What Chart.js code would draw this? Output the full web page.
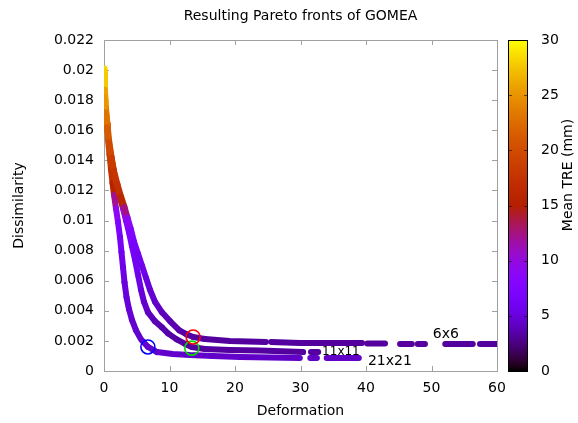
<!DOCTYPE html>
<html>
<head>
<meta charset="utf-8">
<title>Resulting Pareto fronts of GOMEA</title>
<script src="https://cdn.jsdelivr.net/npm/chart.js@4.4.1/dist/chart.umd.min.js"></script>
<style>
  html, body { margin: 0; padding: 0; background: #fff; }
</style>
</head>
<body>
<canvas id="pareto" width="578" height="423"></canvas>
<script>
// Pareto fronts per grid size: deformation, dissimilarity, mean TRE (mm).
// null entries mark gaps between runs of solutions.
const def6 = [0, 0.23, 0.46, 0.76, 1.15, 1.53, 2.06, 2.60, 3.13, 3.59, 4.12, 4.58, 5.19, 5.80, 6.41, 7.02, 7.79, 8.85, 10.1, 11.5, 12.5, 13.6, 15.4, 19.2, 24.7, null, 25.5, 29.9, 39.4, null, 40.2, 42.9, null, 45.2, 47.0, null, 47.9, 49.0, null, 52.1, 56.3, null, 57.4, 60.0];
const dis6 = [0.0182, 0.0172, 0.0162, 0.0152, 0.0142, 0.0133, 0.0124, 0.0116, 0.0109, 0.0102, 0.0094, 0.0086, 0.0078, 0.0070, 0.0062, 0.0054, 0.0046, 0.0039, 0.0033, 0.0027, 0.00246, 0.00226, 0.00213, 0.0020, 0.00193, null, 0.00193, 0.00186, 0.00186, null, 0.00183, 0.00183, null, 0.00179, 0.00179, null, 0.00179, 0.00179, null, 0.00179, 0.00179, null, 0.00179, 0.00179];
const tre6 = [26, 24, 22, 20.5, 19, 18, 17.5, 17, 15, 10, 8, 7, 6.3, 5.8, 5.3, 4.9, 4.5, 4.1, 3.8, 3.6, 3.4, 3.3, 3.2, 3.2, 3.2, null, 3.2, 3.2, 3.2, null, 3.2, 3.2, null, 3.2, 3.2, null, 3.2, 3.2, null, 3.2, 3.2, null, 3.2, 3.2];

const def11 = [0, 0.15, 0.30, 0.53, 0.76, 1.07, 1.45, 1.91, 2.44, 2.90, 3.36, 3.82, 4.27, 4.73, 5.19, 5.65, 6.10, 6.72, 7.79, 8.85, 9.77, 11.1, 12.4, 13.4, 15.4, 19.2, 23.8, 30.4, null, 31.6, 32.7];
const dis11 = [0.0199, 0.0187, 0.0175, 0.0164, 0.0154, 0.0144, 0.0134, 0.0124, 0.0115, 0.0108, 0.0100, 0.0092, 0.0083, 0.0074, 0.0064, 0.0054, 0.0046, 0.0039, 0.0033, 0.0029, 0.0025, 0.0021, 0.0018, 0.0016, 0.00146, 0.0014, 0.00136, 0.00126, null, 0.00126, 0.00126];
const tre11 = [28.5, 27, 24.5, 22, 20.5, 19.5, 18.5, 17.5, 16.5, 11.5, 9, 7.8, 6.8, 6.2, 5.7, 5.2, 4.6, 4.2, 3.9, 3.7, 3.5, 3.4, 3.3, 3.3, 3.2, 3.2, 3.2, 3.2, null, 3.2, 3.2];

const def21 = [0, 0.08, 0.15, 0.30, 0.46, 0.60, 0.84, 1.07, 1.30, 1.53, 1.83, 2.14, 2.44, 2.67, 2.90, 3.13, 3.44, 3.82, 4.27, 4.89, 5.65, 6.72, 8.1, 10.5, 13.1, 16.6, 20.8, 25.3, 29.9, null, 31.5, 32.5, null, 34.0, 38.9];
const dis21 = [0.0201, 0.0193, 0.0183, 0.0173, 0.0164, 0.0154, 0.0144, 0.0134, 0.0125, 0.0117, 0.0108, 0.0099, 0.0089, 0.0079, 0.0069, 0.0059, 0.0049, 0.0041, 0.0034, 0.0027, 0.0021, 0.0016, 0.00126, 0.00113, 0.00106, 0.00100, 0.00093, 0.0009, 0.00086, null, 0.00086, 0.00086, null, 0.00086, 0.00086];
const tre21 = [29, 27.5, 25.5, 23.5, 21.5, 20, 19, 18, 16.5, 14, 10, 8, 6.8, 6, 5.5, 5.2, 5, 4.8, 4.7, 4.5, 4.5, 4.5, 4.4, 4.4, 4.4, 4.4, 4.3, 4.3, 4.3, null, 4.3, 4.3, null, 4.3, 4.3];

// highlighted solutions
const pickDef = [13.6, 13.4, 6.7];
const pickDis = [0.00226, 0.00152, 0.0016];
const pickColors = ['#ff0000', '#00dd00', '#0000ff'];

// front labels
const labelText = ['6x6', '11x11', '21x21'];
const labelDef = [50.2, 33.3, 40.3];
const labelDis = [0.00246, 0.00126, 0.00066];
const labelSize = [14, 12, 14];

const FONT = '"DejaVu Sans", sans-serif';

// gnuplot default palette (rgbformulae 7,5,15) over 0..30 mm
function palette(v) {
    const t = Math.min(Math.max(v / 30, 0), 1);
    const r = Math.sqrt(t);
    const g = t * t * t;
    const b = Math.max(0, Math.sin(2 * Math.PI * t));
    return 'rgb(' + Math.round(r * 255) + ',' + Math.round(g * 255) + ',' + Math.round(b * 255) + ')';
}

function frontDataset(def, dis, tre) {
    return {
        data: def.map((x, i) => ({ x: x, y: dis[i] })),
        showLine: true,
        spanGaps: false,
        borderWidth: 6,
        borderCapStyle: 'round',
        borderJoinStyle: 'round',
        pointRadius: 0,
        tension: 0,
        fill: false,
        order: 1,
        segment: {
            borderColor: c => palette((tre[c.p0DataIndex] + tre[c.p1DataIndex]) / 2)
        }
    };
}

const pickDatasets = pickDef.map((x, i) => ({
    data: [{ x: x, y: pickDis[i] }],
    showLine: false,
    pointRadius: 7,
    pointBorderWidth: 1.6,
    pointBorderColor: pickColors[i],
    pointBackgroundColor: 'rgba(0,0,0,0)',
    order: 0
}));

// frame, ticks, colorbar and texts
const decorations = {
    id: 'decorations',
    beforeDatasetsDraw(chart) {
        const { ctx, chartArea: a, scales } = chart;
        ctx.save();
        ctx.strokeStyle = '#a0a0a0';
        ctx.lineWidth = 1;
        ctx.strokeRect(a.left + 0.5, a.top + 0.5, a.right - a.left, a.bottom - a.top);
        ctx.beginPath();
        for (let v = 10; v < 60; v += 10) {
            const px = Math.round(scales.x.getPixelForValue(v)) + 0.5;
            ctx.moveTo(px, a.bottom); ctx.lineTo(px, a.bottom - 5);
            ctx.moveTo(px, a.top); ctx.lineTo(px, a.top + 5);
        }
        for (let k = 1; k < 11; k++) {
            const py = Math.round(scales.y.getPixelForValue(k * 0.002)) + 0.5;
            ctx.moveTo(a.left, py); ctx.lineTo(a.left + 5, py);
            ctx.moveTo(a.right, py); ctx.lineTo(a.right - 5, py);
        }
        ctx.stroke();
        ctx.restore();
    },
    afterDraw(chart) {
        const { ctx, chartArea: a, scales } = chart;
        const cb = scales.cb;
        ctx.save();

        // colorbar
        const x0 = a.right + 11, w = 20;
        const top = cb.getPixelForValue(30), bot = cb.getPixelForValue(0);
        const grad = ctx.createLinearGradient(0, bot, 0, top);
        for (let i = 0; i <= 60; i++) grad.addColorStop(i / 60, palette(i / 2));
        ctx.fillStyle = grad;
        ctx.fillRect(x0, top, w, bot - top);
        ctx.strokeStyle = '#000';
        ctx.lineWidth = 1;
        ctx.strokeRect(x0 + 0.5, top + 0.5, w - 1, bot - top);
        ctx.strokeStyle = 'rgba(0,0,0,0.55)';
        ctx.beginPath();
        for (let v = 5; v < 30; v += 5) {
            const py = Math.round(cb.getPixelForValue(v)) + 0.5;
            ctx.moveTo(x0, py); ctx.lineTo(x0 + 4, py);
            ctx.moveTo(x0 + w, py); ctx.lineTo(x0 + w - 4, py);
        }
        ctx.stroke();

        // titles
        ctx.fillStyle = '#000';
        ctx.textAlign = 'center';
        ctx.textBaseline = 'middle';
        ctx.font = '14px ' + FONT;
        ctx.fillText('Resulting Pareto fronts of GOMEA', (a.left + a.right) / 2, 16);
        ctx.fillText('Deformation', (a.left + a.right) / 2, 411);

        ctx.save();
        ctx.translate(19, (a.top + a.bottom) / 2);
        ctx.rotate(-Math.PI / 2);
        ctx.fillText('Dissimilarity', 0, 0);
        ctx.restore();

        ctx.save();
        ctx.translate(568, 175);
        ctx.rotate(-Math.PI / 2);
        ctx.fillText('Mean TRE (mm)', 0, 0);
        ctx.restore();

        // front labels
        ctx.textAlign = 'left';
        labelText.forEach((t, i) => {
            ctx.font = labelSize[i] + 'px ' + FONT;
            ctx.fillText(t, scales.x.getPixelForValue(labelDef[i]), scales.y.getPixelForValue(labelDis[i]));
        });
        ctx.restore();
    }
};

const tickFont = { family: FONT, size: 14 };

// fixed axis box sizes; the tick padding should not push the plot area down
function fixBox(size) {
    return s => {
        if (s.isHorizontal()) s.height = size; else s.width = size;
        s.paddingTop = 0;
        s.paddingBottom = 0;
    };
}

new Chart(document.getElementById('pareto'), {
    type: 'line',
    data: {
        datasets: [
            frontDataset(def6, dis6, tre6),
            frontDataset(def11, dis11, tre11),
            frontDataset(def21, dis21, tre21)
        ].concat(pickDatasets)
    },
    options: {
        responsive: false,
        animation: false,
        events: [],
        layout: { padding: { top: 40, left: 0, right: 0, bottom: 0 } },
        plugins: {
            legend: { display: false },
            title: { display: false },
            tooltip: { enabled: false }
        },
        scales: {
            x: {
                type: 'linear',
                min: 0,
                max: 60,
                ticks: { stepSize: 10, padding: 9, color: '#000', font: tickFont },
                grid: { display: false, drawTicks: false },
                border: { display: false },
                afterFit: fixBox(52)
            },
            y: {
                type: 'linear',
                position: 'left',
                min: 0,
                max: 0.022,
                ticks: {
                    stepSize: 0.002,
                    padding: 10,
                    color: '#000',
                    font: tickFont,
                    callback: v => String(parseFloat(v.toFixed(3)))
                },
                grid: { display: false, drawTicks: false },
                border: { display: false },
                afterFit: fixBox(104)
            },
            cb: {
                axis: 'y',
                type: 'linear',
                position: 'right',
                min: 0,
                max: 30,
                ticks: { stepSize: 5, padding: 44, color: '#000', font: tickFont },
                grid: { display: false, drawTicks: false },
                border: { display: false },
                afterFit: fixBox(81)
            }
        }
    },
    plugins: [decorations]
});
</script>
</body>
</html>
